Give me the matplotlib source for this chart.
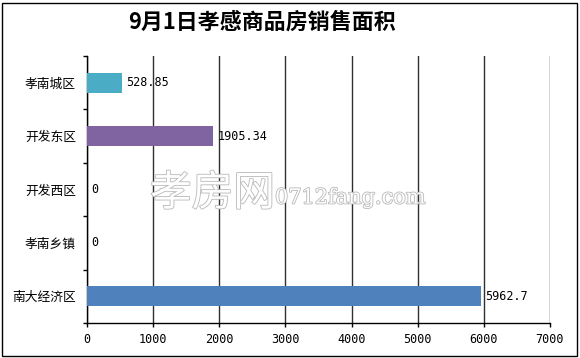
import matplotlib
matplotlib.use("Agg")
import matplotlib.pyplot as plt
import matplotlib.patheffects as pe
from matplotlib.patches import Rectangle

plt.rcParams['font.family'] = ['Noto Sans CJK SC', 'DejaVu Sans']

title = "9月1日孝感商品房销售面积"
districts = ["孝南城区", "开发东区", "开发西区", "孝南乡镇", "南大经济区"]
areas = [528.85, 1905.34, 0, 0, 5962.7]
value_labels = ["528.85", "1905.34", "0", "0", "5962.7"]
bar_colors = ["#4BACC6", "#8064A2", "#4F81BD", "#4F81BD", "#4F81BD"]
xticks = [0, 1000, 2000, 3000, 4000, 5000, 6000, 7000]

fig = plt.figure(figsize=(5.8, 3.58), dpi=100)
W, H = 580, 358
ax = fig.add_axes([87 / W, 1 - 323 / H, (550 - 87) / W, (323 - 56) / H])

# outer border
fig.patches.append(Rectangle((2 / W, 2 / H), 575 / W, 353 / H, transform=fig.transFigure,
                             fill=False, edgecolor="black", linewidth=1))

ypos = list(range(len(districts)))
ax.barh(ypos, areas, height=0.38, color=bar_colors, zorder=3)
for y, v, lab in zip(ypos, areas, value_labels):
    ax.annotate(lab, (v, y), xytext=(3, 0), textcoords="offset points",
                va="center", ha="left", fontsize=8.5, family="DejaVu Sans Mono", zorder=4)

ax.set_xlim(0, 7000)
ax.set_ylim(len(districts) - 0.5, -0.5)
ax.set_xticks(xticks)
ax.set_xticklabels([str(t) for t in xticks], fontsize=8.5, family="DejaVu Sans Mono")
ax.set_yticks(ypos)
ax.set_yticklabels(districts, fontsize=9.2)
ax.set_yticks([i - 0.5 for i in range(len(districts) + 1)], minor=True)
ax.tick_params(axis="y", which="major", length=0, pad=8)
ax.tick_params(axis="y", which="minor", length=3, direction="out", width=1)
ax.tick_params(axis="x", length=3, direction="out", width=1, pad=4)
ax.grid(axis="x", color="#303030", linewidth=1, zorder=1)
for s in ["top", "right"]:
    ax.spines[s].set_visible(False)
for s in ["left", "bottom"]:
    ax.spines[s].set_linewidth(1)

fig.text(0.452, 1 - 22 / H, title, ha="center", va="center", fontsize=15.8, fontweight="bold")

# watermark
outline = [pe.Stroke(linewidth=1.2, foreground="#b8b8b8"), pe.Normal()]
fig.text(150 / W, 1 - 194 / H, "孝房网", ha="left", va="center", fontsize=30,
         color="white", path_effects=outline, zorder=5)
fig.text(275 / W, 1 - 198 / H, "0712fang.com", ha="left", va="center", fontsize=15,
         color="white", family="DejaVu Serif", path_effects=outline, zorder=5)

fig.savefig("out.png", dpi=100)
